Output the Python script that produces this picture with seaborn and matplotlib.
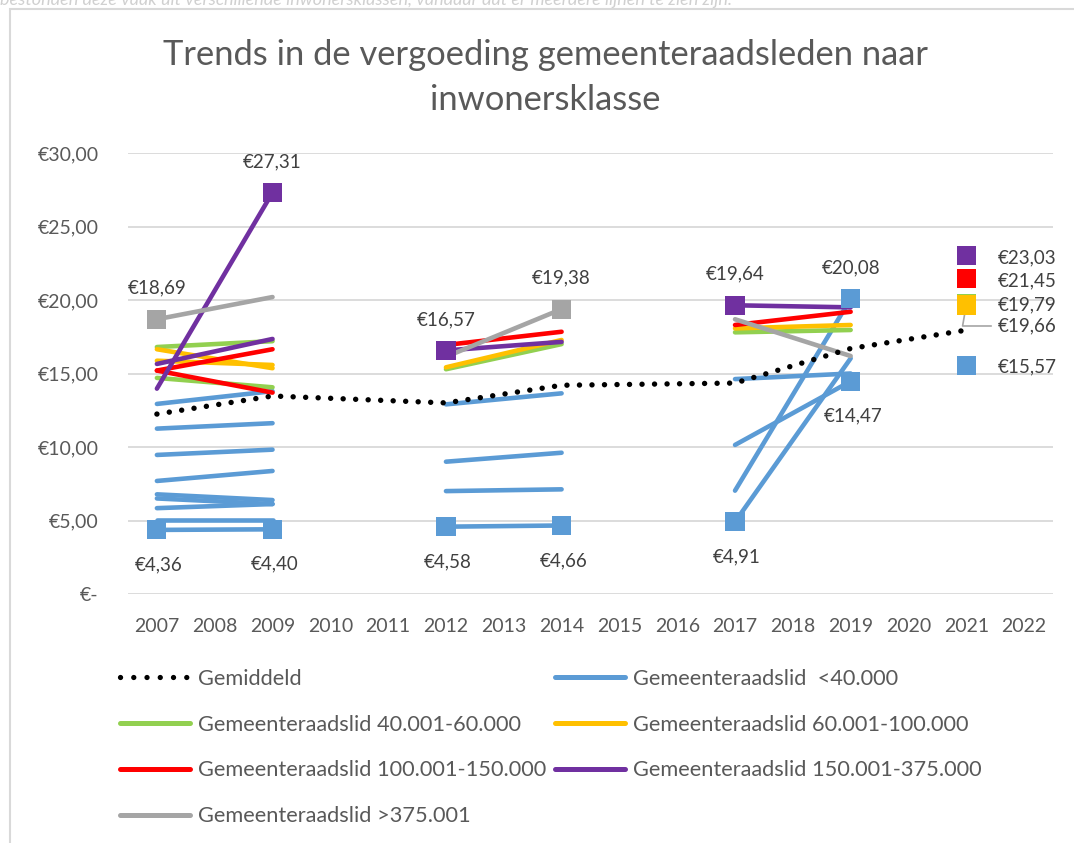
import matplotlib
matplotlib.use("Agg")
import matplotlib.pyplot as plt
from matplotlib.lines import Line2D
from matplotlib.patches import Rectangle
import seaborn as sns
import pandas as pd

# x-as: jaren (categorie-as zoals in Excel)
jaren = list(range(2007, 2023))

# gemiddelde vergoeding (stippellijn)
gem_jaren = [2007, 2009, 2012, 2014, 2017, 2019, 2021]
gem_bedrag = [12.24, 13.47, 13.00, 14.20, 14.35, 16.70, 17.95]

klassen = ["<40.000", "40.001-60.000", "60.001-100.000",
           "100.001-150.000", "150.001-375.000", ">375.001"]
kleuren = ["#5B9BD5", "#92D050", "#FFC000", "#FF0000", "#7030A0", "#A5A5A5"]

# lijnstukken per inwonersklasse: (startjaar, eindjaar, startbedrag, eindbedrag)
lijnen_tot_40 = [
    (2007, 2009, 12.93, 13.80), (2007, 2009, 11.25, 11.62),
    (2007, 2009, 9.46, 9.82), (2007, 2009, 7.69, 8.37),
    (2007, 2009, 6.78, 6.39), (2007, 2009, 6.50, 6.12),
    (2007, 2009, 5.84, 6.12), (2007, 2009, 5.03, 5.03),
    (2007, 2009, 4.36, 4.40),
    (2012, 2014, 12.90, 13.65), (2012, 2014, 9.00, 9.61),
    (2012, 2014, 7.00, 7.12), (2012, 2014, 4.58, 4.66),
    (2017, 2019, 14.62, 15.00), (2017, 2019, 10.14, 14.47),
    (2017, 2019, 7.03, 20.08), (2017, 2019, 4.91, 16.03),
]
lijnen_40_60 = [
    (2007, 2009, 16.80, 17.20), (2007, 2009, 14.70, 14.06),
    (2012, 2014, 15.29, 17.00), (2017, 2019, 17.80, 17.96),
]
lijnen_60_100 = [
    (2007, 2009, 16.65, 15.36), (2007, 2009, 15.87, 15.58),
    (2012, 2014, 15.42, 17.28), (2017, 2019, 18.07, 18.30),
]
lijnen_100_150 = [
    (2007, 2009, 15.20, 16.65), (2007, 2009, 15.20, 13.70),
    (2012, 2014, 16.94, 17.84), (2017, 2019, 18.30, 19.20),
]
lijnen_150_375 = [
    (2007, 2009, 15.65, 17.35), (2007, 2009, 13.97, 27.31),
    (2012, 2014, 16.57, 17.15), (2017, 2019, 19.64, 19.50),
]
lijnen_boven_375 = [
    (2007, 2009, 18.69, 20.20), (2012, 2014, 16.14, 19.38),
    (2017, 2019, 18.69, 16.19),
]

# punten met marker + label: (jaar, bedrag, klasse, plek)
labels = [
    (2009, 27.31, "150.001-375.000", "boven"),
    (2007, 18.69, ">375.001", "boven"),
    (2007, 4.36, "<40.000", "onder"),
    (2009, 4.40, "<40.000", "onder"),
    (2012, 16.57, "150.001-375.000", "boven"),
    (2014, 19.38, ">375.001", "boven"),
    (2012, 4.58, "<40.000", "onder"),
    (2014, 4.66, "<40.000", "onder"),
    (2017, 19.64, "150.001-375.000", "boven"),
    (2019, 20.08, "<40.000", "boven"),
    (2017, 4.91, "<40.000", "onder"),
    (2019, 14.47, "<40.000", "onder"),
    (2021, 23.03, "150.001-375.000", "rechts"),
    (2021, 21.45, "100.001-150.000", "rechts"),
    (2021, 19.79, "40.001-60.000", "rechts"),
    (2021, 19.66, "60.001-100.000", "lijn"),
    (2021, 15.57, "<40.000", "rechts"),
]

alle_lijnen = [lijnen_tot_40, lijnen_40_60, lijnen_60_100,
               lijnen_100_150, lijnen_150_375, lijnen_boven_375]
palet = dict(zip(klassen, kleuren))

rows = []
for klasse, segs in zip(klassen, alle_lijnen):
    for i, (j0, j1, b0, b1) in enumerate(segs):
        rows.append(dict(klasse=klasse, lijn=f"{klasse}-{i}", jaar=j0, bedrag=b0))
        rows.append(dict(klasse=klasse, lijn=f"{klasse}-{i}", jaar=j1, bedrag=b1))
df = pd.DataFrame(rows)
mdf = pd.DataFrame(labels, columns=["jaar", "bedrag", "klasse", "plek"])

sns.set_style("white")
plt.rcParams["font.family"] = ["Lato", "DejaVu Sans"]
tekst = "#595959"

fig = plt.figure(figsize=(10.74, 8.43), dpi=100)
ax = fig.add_axes([128 / 1074, 1 - 594 / 843, (1053 - 128) / 1074, (594 - 153) / 843])

sns.lineplot(data=df, x="jaar", y="bedrag", hue="klasse", units="lijn",
             estimator=None, sort=False, palette=palet, lw=3.3,
             solid_capstyle="round", legend=False, ax=ax)
sns.lineplot(x=gem_jaren, y=gem_bedrag, color="black", lw=3.9,
             linestyle=(0, (0.01, 2.3)), dash_capstyle="round", ax=ax, zorder=4)
sns.scatterplot(data=mdf, x="jaar", y="bedrag", hue="klasse", palette=palet,
                marker="s", s=190, linewidth=0, legend=False, ax=ax, zorder=5)

for _, r in mdf.iterrows():
    txt = "€" + f"{r.bedrag:.2f}".replace(".", ",")
    kw = dict(xy=(r.jaar, r.bedrag), textcoords="offset pixels", fontsize=13.5,
              color="#404040", annotation_clip=False)
    if r.plek == "boven":
        ax.annotate(txt, xytext=(0, 31), ha="center", va="center", **kw)
    elif r.plek == "onder":
        ax.annotate(txt, xytext=(2, -35), ha="center", va="center", **kw)
    elif r.plek == "rechts":
        ax.annotate(txt, xytext=(31, -2), ha="left", va="center", **kw)
    else:
        ax.annotate(txt, xytext=(31, -21), ha="left", va="center",
                    arrowprops=dict(arrowstyle="-", color="#A5A5A5", lw=1.2,
                                    shrinkA=2, shrinkB=0, relpos=(0, 0.5),
                                    connectionstyle="angle,angleA=180,angleB=80,rad=0"),
                    **kw)

ax.set_xlim(2006.5, 2022.5)
ax.set_ylim(0, 30)
ax.set_xticks(jaren)
ax.set_xticklabels([str(j) for j in jaren])
ax.set_yticks(range(0, 31, 5))
ax.set_yticklabels(["€-" if v == 0 else "€" + f"{v:.2f}".replace(".", ",")
                    for v in range(0, 31, 5)])
ax.set_xlabel("")
ax.set_ylabel("")
ax.tick_params(axis="x", length=0, pad=17, labelsize=14, labelcolor=tekst)
ax.tick_params(axis="y", length=0, pad=21, labelsize=14, labelcolor=tekst)
ax.yaxis.grid(True, color="#D9D9D9", lw=1.3)
ax.xaxis.grid(False)
ax.set_axisbelow(True)
sns.despine(ax=ax, left=True, bottom=True)

fig.text(0.508, 1 - 55 / 843, "Trends in de vergoeding gemeenteraadsleden naar",
         ha="center", va="center", fontsize=24.8, color=tekst)
fig.text(0.508, 1 - 100 / 843, "inwonersklasse",
         ha="center", va="center", fontsize=24.8, color=tekst)

# afgesneden tekst uit het document erboven
fig.text(0.0, 1 - 5 / 843,
         "bestonden deze vaak uit verschillende inwonersklassen, vandaar dat er meerdere lijnen te zien zijn.",
         ha="left", va="baseline", fontsize=13, style="italic", color="#D0D0D0")

fig.patches.append(Rectangle((10 / 1074, -0.1), 1.2, 1.1 - 9 / 843,
                             transform=fig.transFigure, fill=False,
                             ec="#D9D9D9", lw=1.5))

# legenda in twee kolommen
def lijn(kleur):
    return Line2D([], [], color=kleur, lw=3.6, solid_capstyle="round")

gem_handle = Line2D([], [], color="black", lw=3.8, linestyle=(0, (0.01, 2.5)),
                    dash_capstyle="round")
namen = ["Gemeenteraadslid  <40.000"] + [f"Gemeenteraadslid {k}" for k in klassen[1:]]
links = [(gem_handle, "Gemiddeld"), (lijn(kleuren[1]), namen[1]),
         (lijn(kleuren[3]), namen[3]), (lijn(kleuren[5]), namen[5])]
rechts = [(lijn(kleuren[0]), namen[0]), (lijn(kleuren[2]), namen[2]),
          (lijn(kleuren[4]), namen[4])]
for items, x in [(links, 120), (rechts, 555)]:
    fig.legend([h for h, _ in items], [n for _, n in items], loc="upper left",
               bbox_to_anchor=(x / 1074, 1 - 669 / 843), frameon=False,
               fontsize=15.7, labelcolor=tekst, handlelength=3.2, handletextpad=0.37,
               labelspacing=1.18, borderpad=0, borderaxespad=0)

fig.savefig("out.png", dpi=100)
